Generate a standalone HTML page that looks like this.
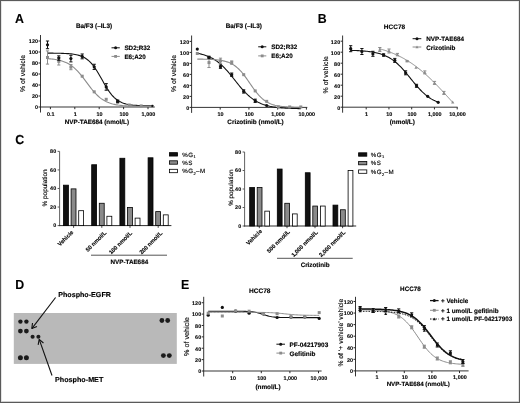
<!DOCTYPE html>
<html><head><meta charset="utf-8"><style>
html,body{margin:0;padding:0;background:#fff;}
svg{display:block;font-family:"Liberation Sans", sans-serif;will-change:transform;transform:translateZ(0);text-rendering:geometricPrecision;}
</style></head><body>
<svg width="520" height="403" viewBox="0 0 520 403">
<rect x="0" y="0" width="520" height="403" fill="#fff"/>
<rect x="0.00" y="1.00" width="520.00" height="1.00" fill="#ececec"/>
<rect x="1.00" y="0.00" width="1.00" height="403.00" fill="#e4e4e4"/>
<rect x="518.00" y="0.00" width="1.00" height="403.00" fill="#e4e4e4"/>
<rect x="0.00" y="401.00" width="520.00" height="1.00" fill="#d0d0d0"/>
<rect x="0.00" y="0.00" width="520.00" height="1.00" fill="#5a5a5a"/>
<rect x="0.00" y="0.00" width="1.00" height="403.00" fill="#5a5a5a"/>
<rect x="519.00" y="0.00" width="1.00" height="403.00" fill="#5a5a5a"/>
<rect x="0.00" y="402.00" width="520.00" height="1.00" fill="#5a5a5a"/>
<text x="0" y="0" font-size="13" font-weight="bold" fill="#000" stroke="#000" stroke-width="0.1" transform="translate(15.1 23.0) scale(0.95 1)">A</text>
<text x="0" y="0" font-size="13" font-weight="bold" fill="#000" stroke="#000" stroke-width="0.1" transform="translate(317.70000000000005 23.0) scale(0.95 1)">B</text>
<text x="0" y="0" font-size="13" font-weight="bold" fill="#000" stroke="#000" stroke-width="0.1" transform="translate(15.2 143.9) scale(0.95 1)">C</text>
<text x="0" y="0" font-size="13" font-weight="bold" fill="#000" stroke="#000" stroke-width="0.1" transform="translate(15.2 288.9) scale(0.95 1)">D</text>
<text x="0" y="0" font-size="13" font-weight="bold" fill="#000" stroke="#000" stroke-width="0.1" transform="translate(180.9 288.9) scale(0.95 1)">E</text>
<line x1="40.50" y1="35.00" x2="40.50" y2="112.50" stroke="#2a2a2a" stroke-width="0.95"/>
<line x1="38.50" y1="107.00" x2="40.50" y2="107.00" stroke="#2a2a2a" stroke-width="1.0"/>
<text x="38.20" y="109.30" font-size="5.4" font-weight="bold" text-anchor="end" fill="#000" stroke="#000" stroke-width="0.1" letter-spacing="0.15">0</text>
<line x1="38.50" y1="96.00" x2="40.50" y2="96.00" stroke="#2a2a2a" stroke-width="1.0"/>
<text x="38.20" y="98.30" font-size="5.4" font-weight="bold" text-anchor="end" fill="#000" stroke="#000" stroke-width="0.1" letter-spacing="0.15">20</text>
<line x1="38.50" y1="85.00" x2="40.50" y2="85.00" stroke="#2a2a2a" stroke-width="1.0"/>
<text x="38.20" y="87.30" font-size="5.4" font-weight="bold" text-anchor="end" fill="#000" stroke="#000" stroke-width="0.1" letter-spacing="0.15">40</text>
<line x1="38.50" y1="74.00" x2="40.50" y2="74.00" stroke="#2a2a2a" stroke-width="1.0"/>
<text x="38.20" y="76.30" font-size="5.4" font-weight="bold" text-anchor="end" fill="#000" stroke="#000" stroke-width="0.1" letter-spacing="0.15">60</text>
<line x1="38.50" y1="63.00" x2="40.50" y2="63.00" stroke="#2a2a2a" stroke-width="1.0"/>
<text x="38.20" y="65.30" font-size="5.4" font-weight="bold" text-anchor="end" fill="#000" stroke="#000" stroke-width="0.1" letter-spacing="0.15">80</text>
<line x1="38.50" y1="52.00" x2="40.50" y2="52.00" stroke="#2a2a2a" stroke-width="1.0"/>
<text x="38.20" y="54.30" font-size="5.4" font-weight="bold" text-anchor="end" fill="#000" stroke="#000" stroke-width="0.1" letter-spacing="0.15">100</text>
<line x1="38.50" y1="41.00" x2="40.50" y2="41.00" stroke="#2a2a2a" stroke-width="1.0"/>
<text x="38.20" y="43.30" font-size="5.4" font-weight="bold" text-anchor="end" fill="#000" stroke="#000" stroke-width="0.1" letter-spacing="0.15">120</text>
<line x1="40.05" y1="107.00" x2="154.80" y2="107.00" stroke="#2a2a2a" stroke-width="0.95"/>
<line x1="50.40" y1="107.00" x2="50.40" y2="109.20" stroke="#2a2a2a" stroke-width="1.0"/>
<text x="50.80" y="115.50" font-size="5.45" font-weight="bold" text-anchor="middle" fill="#000" stroke="#000" stroke-width="0.1">0.1</text>
<line x1="74.80" y1="107.00" x2="74.80" y2="109.20" stroke="#2a2a2a" stroke-width="1.0"/>
<text x="75.20" y="115.50" font-size="5.45" font-weight="bold" text-anchor="middle" fill="#000" stroke="#000" stroke-width="0.1">1</text>
<line x1="99.20" y1="107.00" x2="99.20" y2="109.20" stroke="#2a2a2a" stroke-width="1.0"/>
<text x="99.60" y="115.50" font-size="5.45" font-weight="bold" text-anchor="middle" fill="#000" stroke="#000" stroke-width="0.1">10</text>
<line x1="123.60" y1="107.00" x2="123.60" y2="109.20" stroke="#2a2a2a" stroke-width="1.0"/>
<text x="124.00" y="115.50" font-size="5.45" font-weight="bold" text-anchor="middle" fill="#000" stroke="#000" stroke-width="0.1">100</text>
<line x1="148.00" y1="107.00" x2="148.00" y2="109.20" stroke="#2a2a2a" stroke-width="1.0"/>
<text x="148.40" y="115.50" font-size="5.45" font-weight="bold" text-anchor="middle" fill="#000" stroke="#000" stroke-width="0.1">1,000</text>
<text x="75.90" y="28.30" font-size="6.4" font-weight="bold" text-anchor="start" fill="#000" stroke="#000" stroke-width="0.14">Ba/F3 (–IL3)</text>
<text x="96.90" y="123.50" font-size="6.3" font-weight="bold" text-anchor="middle" fill="#000" stroke="#000" stroke-width="0.14">NVP-TAE684 (nmol/L)</text>
<text x="25.30" y="73.40" font-size="6.9" font-weight="normal" text-anchor="middle" fill="#000" stroke="#000" stroke-width="0.14" transform="rotate(-90 25.3 73.4)">% of vehicle</text>
<path d="M47.50,53.13 L48.81,53.14 L50.12,53.15 L51.43,53.16 L52.74,53.17 L54.05,53.18 L55.36,53.20 L56.67,53.22 L57.98,53.24 L59.29,53.27 L60.60,53.30 L61.91,53.34 L63.22,53.38 L64.53,53.44 L65.84,53.50 L67.15,53.58 L68.46,53.67 L69.77,53.78 L71.08,53.91 L72.39,54.07 L73.70,54.25 L75.01,54.47 L76.32,54.72 L77.63,55.02 L78.94,55.38 L80.25,55.80 L81.56,56.29 L82.87,56.86 L84.18,57.53 L85.49,58.30 L86.80,59.19 L88.11,60.21 L89.42,61.37 L90.73,62.68 L92.04,64.14 L93.35,65.76 L94.66,67.54 L95.97,69.47 L97.28,71.53 L98.59,73.70 L99.90,75.96 L101.21,78.27 L102.52,80.60 L103.83,82.92 L105.14,85.18 L106.45,87.36 L107.76,89.43 L109.07,91.36 L110.38,93.15 L111.69,94.78 L113.00,96.25 L114.31,97.57 L115.62,98.73 L116.93,99.76 L118.24,100.66 L119.55,101.43 L120.86,102.11 L122.17,102.68 L123.48,103.18 L124.79,103.60 L126.10,103.96 L127.41,104.26 L128.72,104.52 L130.03,104.74 L131.34,104.92 L132.65,105.08 L133.96,105.21 L135.27,105.32 L136.58,105.41 L137.89,105.49 L139.20,105.56 L140.51,105.61 L141.82,105.66 L143.13,105.70 L144.44,105.73 L145.75,105.76 L147.06,105.78 L148.37,105.80 L149.68,105.82 L150.99,105.83 L152.30,105.84" stroke="#111" stroke-width="1.1" fill="none"/>
<path d="M47.50,58.67 L48.81,58.76 L50.12,58.88 L51.43,59.00 L52.74,59.15 L54.05,59.32 L55.36,59.51 L56.67,59.73 L57.98,59.99 L59.29,60.28 L60.60,60.61 L61.91,60.98 L63.22,61.41 L64.53,61.90 L65.84,62.45 L67.15,63.07 L68.46,63.77 L69.77,64.54 L71.08,65.41 L72.39,66.37 L73.70,67.42 L75.01,68.58 L76.32,69.83 L77.63,71.18 L78.94,72.62 L80.25,74.15 L81.56,75.75 L82.87,77.42 L84.18,79.14 L85.49,80.89 L86.80,82.65 L88.11,84.42 L89.42,86.15 L90.73,87.85 L92.04,89.49 L93.35,91.06 L94.66,92.55 L95.97,93.95 L97.28,95.26 L98.59,96.47 L99.90,97.57 L101.21,98.58 L102.52,99.50 L103.83,100.32 L105.14,101.06 L106.45,101.72 L107.76,102.31 L109.07,102.83 L110.38,103.29 L111.69,103.69 L113.00,104.05 L114.31,104.36 L115.62,104.64 L116.93,104.87 L118.24,105.08 L119.55,105.26 L120.86,105.42 L122.17,105.56 L123.48,105.68 L124.79,105.78 L126.10,105.87 L127.41,105.95 L128.72,106.02 L130.03,106.07 L131.34,106.13 L132.65,106.17 L133.96,106.21 L135.27,106.24 L136.58,106.27 L137.89,106.29 L139.20,106.31 L140.51,106.33 L141.82,106.35 L143.13,106.36 L144.44,106.37 L145.75,106.38 L147.06,106.39 L148.37,106.40 L149.68,106.41 L150.99,106.41 L152.30,106.42" stroke="#8c8c8c" stroke-width="1.1" fill="none"/>
<line x1="47.50" y1="50.90" x2="47.50" y2="64.10" stroke="#8c8c8c" stroke-width="1.0"/>
<line x1="45.90" y1="50.90" x2="49.10" y2="50.90" stroke="#8c8c8c" stroke-width="1.0"/>
<line x1="45.90" y1="64.10" x2="49.10" y2="64.10" stroke="#8c8c8c" stroke-width="1.0"/>
<rect x="46.00" y="56.00" width="3.00" height="3.00" fill="#8c8c8c"/>
<line x1="58.80" y1="57.66" x2="58.80" y2="65.03" stroke="#8c8c8c" stroke-width="1.0"/>
<line x1="57.20" y1="57.66" x2="60.40" y2="57.66" stroke="#8c8c8c" stroke-width="1.0"/>
<line x1="57.20" y1="65.03" x2="60.40" y2="65.03" stroke="#8c8c8c" stroke-width="1.0"/>
<rect x="57.30" y="59.85" width="3.00" height="3.00" fill="#8c8c8c"/>
<line x1="70.90" y1="64.54" x2="70.90" y2="69.71" stroke="#8c8c8c" stroke-width="1.0"/>
<line x1="69.30" y1="64.54" x2="72.50" y2="64.54" stroke="#8c8c8c" stroke-width="1.0"/>
<line x1="69.30" y1="69.71" x2="72.50" y2="69.71" stroke="#8c8c8c" stroke-width="1.0"/>
<rect x="69.40" y="65.62" width="3.00" height="3.00" fill="#8c8c8c"/>
<rect x="80.70" y="74.70" width="3.00" height="3.00" fill="#8c8c8c"/>
<rect x="92.70" y="90.32" width="3.00" height="3.00" fill="#8c8c8c"/>
<rect x="104.70" y="97.80" width="3.00" height="3.00" fill="#8c8c8c"/>
<rect x="116.20" y="100.83" width="3.00" height="3.00" fill="#8c8c8c"/>
<rect x="127.70" y="103.52" width="3.00" height="3.00" fill="#8c8c8c"/>
<rect x="139.70" y="104.40" width="3.00" height="3.00" fill="#8c8c8c"/>
<rect x="150.80" y="104.95" width="3.00" height="3.00" fill="#8c8c8c"/>
<line x1="47.50" y1="41.00" x2="47.50" y2="48.70" stroke="#111" stroke-width="1.0"/>
<line x1="45.90" y1="41.00" x2="49.10" y2="41.00" stroke="#111" stroke-width="1.0"/>
<line x1="45.90" y1="48.70" x2="49.10" y2="48.70" stroke="#111" stroke-width="1.0"/>
<circle cx="47.50" cy="44.85" r="1.6" fill="#111"/>
<line x1="58.80" y1="55.85" x2="58.80" y2="60.25" stroke="#111" stroke-width="1.0"/>
<line x1="57.20" y1="55.85" x2="60.40" y2="55.85" stroke="#111" stroke-width="1.0"/>
<line x1="57.20" y1="60.25" x2="60.40" y2="60.25" stroke="#111" stroke-width="1.0"/>
<circle cx="58.80" cy="58.05" r="1.6" fill="#111"/>
<line x1="70.90" y1="55.30" x2="70.90" y2="61.90" stroke="#111" stroke-width="1.0"/>
<line x1="69.30" y1="55.30" x2="72.50" y2="55.30" stroke="#111" stroke-width="1.0"/>
<line x1="69.30" y1="61.90" x2="72.50" y2="61.90" stroke="#111" stroke-width="1.0"/>
<circle cx="70.90" cy="58.60" r="1.6" fill="#111"/>
<line x1="82.20" y1="53.98" x2="82.20" y2="58.82" stroke="#111" stroke-width="1.0"/>
<line x1="80.60" y1="53.98" x2="83.80" y2="53.98" stroke="#111" stroke-width="1.0"/>
<line x1="80.60" y1="58.82" x2="83.80" y2="58.82" stroke="#111" stroke-width="1.0"/>
<circle cx="82.20" cy="56.40" r="1.6" fill="#111"/>
<line x1="94.20" y1="64.26" x2="94.20" y2="69.44" stroke="#111" stroke-width="1.0"/>
<line x1="92.60" y1="64.26" x2="95.80" y2="64.26" stroke="#111" stroke-width="1.0"/>
<line x1="92.60" y1="69.44" x2="95.80" y2="69.44" stroke="#111" stroke-width="1.0"/>
<circle cx="94.20" cy="66.85" r="1.6" fill="#111"/>
<line x1="106.20" y1="83.62" x2="106.20" y2="90.22" stroke="#111" stroke-width="1.0"/>
<line x1="104.60" y1="83.62" x2="107.80" y2="83.62" stroke="#111" stroke-width="1.0"/>
<line x1="104.60" y1="90.22" x2="107.80" y2="90.22" stroke="#111" stroke-width="1.0"/>
<circle cx="106.20" cy="86.92" r="1.6" fill="#111"/>
<line x1="117.70" y1="100.12" x2="117.70" y2="102.33" stroke="#111" stroke-width="1.0"/>
<line x1="116.10" y1="100.12" x2="119.30" y2="100.12" stroke="#111" stroke-width="1.0"/>
<line x1="116.10" y1="102.33" x2="119.30" y2="102.33" stroke="#111" stroke-width="1.0"/>
<circle cx="117.70" cy="101.22" r="1.6" fill="#111"/>
<circle cx="152.30" cy="105.90" r="1.1" fill="#111"/>
<line x1="111.50" y1="47.80" x2="119.80" y2="47.80" stroke="#111" stroke-width="1"/>
<circle cx="115.60" cy="47.80" r="1.5" fill="#111"/>
<text x="124.40" y="49.80" font-size="6.3" font-weight="bold" text-anchor="start" fill="#000" stroke="#000" stroke-width="0.14">SD2;R32</text>
<line x1="111.50" y1="56.40" x2="119.80" y2="56.40" stroke="#8c8c8c" stroke-width="1"/>
<rect x="114.20" y="55.00" width="2.80" height="2.80" fill="#8c8c8c"/>
<text x="124.40" y="58.70" font-size="6.3" font-weight="bold" text-anchor="start" fill="#000" stroke="#000" stroke-width="0.14">E6;A20</text>
<line x1="191.60" y1="35.50" x2="191.60" y2="112.90" stroke="#2a2a2a" stroke-width="0.95"/>
<line x1="189.60" y1="107.40" x2="191.60" y2="107.40" stroke="#2a2a2a" stroke-width="1.0"/>
<text x="189.30" y="109.70" font-size="5.4" font-weight="bold" text-anchor="end" fill="#000" stroke="#000" stroke-width="0.1" letter-spacing="0.15">0</text>
<line x1="189.60" y1="96.40" x2="191.60" y2="96.40" stroke="#2a2a2a" stroke-width="1.0"/>
<text x="189.30" y="98.70" font-size="5.4" font-weight="bold" text-anchor="end" fill="#000" stroke="#000" stroke-width="0.1" letter-spacing="0.15">20</text>
<line x1="189.60" y1="85.40" x2="191.60" y2="85.40" stroke="#2a2a2a" stroke-width="1.0"/>
<text x="189.30" y="87.70" font-size="5.4" font-weight="bold" text-anchor="end" fill="#000" stroke="#000" stroke-width="0.1" letter-spacing="0.15">40</text>
<line x1="189.60" y1="74.40" x2="191.60" y2="74.40" stroke="#2a2a2a" stroke-width="1.0"/>
<text x="189.30" y="76.70" font-size="5.4" font-weight="bold" text-anchor="end" fill="#000" stroke="#000" stroke-width="0.1" letter-spacing="0.15">60</text>
<line x1="189.60" y1="63.40" x2="191.60" y2="63.40" stroke="#2a2a2a" stroke-width="1.0"/>
<text x="189.30" y="65.70" font-size="5.4" font-weight="bold" text-anchor="end" fill="#000" stroke="#000" stroke-width="0.1" letter-spacing="0.15">80</text>
<line x1="189.60" y1="52.40" x2="191.60" y2="52.40" stroke="#2a2a2a" stroke-width="1.0"/>
<text x="189.30" y="54.70" font-size="5.4" font-weight="bold" text-anchor="end" fill="#000" stroke="#000" stroke-width="0.1" letter-spacing="0.15">100</text>
<line x1="189.60" y1="41.40" x2="191.60" y2="41.40" stroke="#2a2a2a" stroke-width="1.0"/>
<text x="189.30" y="43.70" font-size="5.4" font-weight="bold" text-anchor="end" fill="#000" stroke="#000" stroke-width="0.1" letter-spacing="0.15">120</text>
<line x1="191.15" y1="107.40" x2="307.30" y2="107.40" stroke="#2a2a2a" stroke-width="0.95"/>
<line x1="220.20" y1="107.40" x2="220.20" y2="109.60" stroke="#2a2a2a" stroke-width="1.0"/>
<text x="220.60" y="115.90" font-size="5.45" font-weight="bold" text-anchor="middle" fill="#000" stroke="#000" stroke-width="0.1">10</text>
<line x1="248.93" y1="107.40" x2="248.93" y2="109.60" stroke="#2a2a2a" stroke-width="1.0"/>
<text x="249.33" y="115.90" font-size="5.45" font-weight="bold" text-anchor="middle" fill="#000" stroke="#000" stroke-width="0.1">100</text>
<line x1="277.66" y1="107.40" x2="277.66" y2="109.60" stroke="#2a2a2a" stroke-width="1.0"/>
<text x="278.06" y="115.90" font-size="5.45" font-weight="bold" text-anchor="middle" fill="#000" stroke="#000" stroke-width="0.1">1,000</text>
<line x1="306.39" y1="107.40" x2="306.39" y2="109.60" stroke="#2a2a2a" stroke-width="1.0"/>
<text x="306.79" y="115.90" font-size="5.45" font-weight="bold" text-anchor="middle" fill="#000" stroke="#000" stroke-width="0.1">10,000</text>
<text x="225.70" y="28.30" font-size="6.4" font-weight="bold" text-anchor="start" fill="#000" stroke="#000" stroke-width="0.14">Ba/F3 (–IL3)</text>
<text x="227.30" y="123.60" font-size="6.4" font-weight="bold" text-anchor="start" fill="#000" stroke="#000" stroke-width="0.14">Crizotinib (nmol/L)</text>
<text x="176.30" y="73.40" font-size="6.9" font-weight="normal" text-anchor="middle" fill="#000" stroke="#000" stroke-width="0.14" transform="rotate(-90 176.3 73.4)">% of vehicle</text>
<path d="M197.30,53.30 L198.59,53.55 L199.89,53.81 L201.18,54.11 L202.48,54.44 L203.77,54.81 L205.06,55.21 L206.36,55.65 L207.65,56.14 L208.94,56.67 L210.24,57.26 L211.53,57.90 L212.83,58.60 L214.12,59.36 L215.41,60.19 L216.71,61.08 L218.00,62.04 L219.29,63.08 L220.59,64.18 L221.88,65.35 L223.18,66.60 L224.47,67.91 L225.76,69.28 L227.06,70.71 L228.35,72.20 L229.64,73.73 L230.94,75.30 L232.23,76.90 L233.53,78.52 L234.82,80.15 L236.11,81.78 L237.41,83.39 L238.70,84.99 L239.99,86.55 L241.29,88.08 L242.58,89.55 L243.88,90.98 L245.17,92.34 L246.46,93.64 L247.76,94.87 L249.05,96.03 L250.34,97.12 L251.64,98.14 L252.93,99.09 L254.23,99.97 L255.52,100.78 L256.81,101.53 L258.11,102.22 L259.40,102.85 L260.69,103.43 L261.99,103.95 L263.28,104.43 L264.58,104.87 L265.87,105.26 L267.16,105.62 L268.46,105.94 L269.75,106.24 L271.04,106.50 L272.34,106.74 L273.63,106.95 L274.93,107.14 L276.22,107.32 L277.51,107.47 L278.81,107.61 L280.10,107.74 L281.39,107.85 L282.69,107.95 L283.98,108.04 L285.27,108.12 L286.57,108.19 L287.86,108.26 L289.16,108.31 L290.45,108.36 L291.74,108.41 L293.04,108.45 L294.33,108.49 L295.62,108.52 L296.92,108.55 L298.21,108.58 L299.51,108.60 L300.80,108.62" stroke="#111" stroke-width="1.1" fill="none"/>
<path d="M197.30,59.08 L198.59,59.10 L199.89,59.11 L201.18,59.13 L202.48,59.15 L203.77,59.18 L205.06,59.21 L206.36,59.25 L207.65,59.29 L208.94,59.34 L210.24,59.39 L211.53,59.46 L212.83,59.54 L214.12,59.63 L215.41,59.73 L216.71,59.86 L218.00,60.00 L219.29,60.17 L220.59,60.36 L221.88,60.58 L223.18,60.84 L224.47,61.14 L225.76,61.48 L227.06,61.88 L228.35,62.34 L229.64,62.86 L230.94,63.46 L232.23,64.13 L233.53,64.90 L234.82,65.76 L236.11,66.73 L237.41,67.80 L238.70,68.99 L239.99,70.29 L241.29,71.71 L242.58,73.23 L243.88,74.86 L245.17,76.57 L246.46,78.37 L247.76,80.21 L249.05,82.10 L250.34,84.00 L251.64,85.89 L252.93,87.74 L254.23,89.55 L255.52,91.28 L256.81,92.92 L258.11,94.46 L259.40,95.89 L260.69,97.21 L261.99,98.42 L263.28,99.51 L264.58,100.49 L265.87,101.37 L267.16,102.15 L268.46,102.84 L269.75,103.45 L271.04,103.98 L272.34,104.45 L273.63,104.86 L274.93,105.21 L276.22,105.51 L277.51,105.78 L278.81,106.01 L280.10,106.21 L281.39,106.38 L282.69,106.52 L283.98,106.65 L285.27,106.76 L286.57,106.85 L287.86,106.93 L289.16,107.00 L290.45,107.05 L291.74,107.10 L293.04,107.15 L294.33,107.18 L295.62,107.21 L296.92,107.24 L298.21,107.26 L299.51,107.28 L300.80,107.30" stroke="#8c8c8c" stroke-width="1.1" fill="none"/>
<rect x="195.80" y="52.00" width="3.00" height="3.00" fill="#8c8c8c"/>
<line x1="209.00" y1="57.62" x2="209.00" y2="67.53" stroke="#8c8c8c" stroke-width="1.0"/>
<line x1="207.40" y1="57.62" x2="210.60" y2="57.62" stroke="#8c8c8c" stroke-width="1.0"/>
<line x1="207.40" y1="67.53" x2="210.60" y2="67.53" stroke="#8c8c8c" stroke-width="1.0"/>
<rect x="207.50" y="61.08" width="3.00" height="3.00" fill="#8c8c8c"/>
<line x1="220.50" y1="58.18" x2="220.50" y2="63.68" stroke="#8c8c8c" stroke-width="1.0"/>
<line x1="218.90" y1="58.18" x2="222.10" y2="58.18" stroke="#8c8c8c" stroke-width="1.0"/>
<line x1="218.90" y1="63.68" x2="222.10" y2="63.68" stroke="#8c8c8c" stroke-width="1.0"/>
<rect x="219.00" y="59.43" width="3.00" height="3.00" fill="#8c8c8c"/>
<line x1="231.70" y1="60.93" x2="231.70" y2="64.22" stroke="#8c8c8c" stroke-width="1.0"/>
<line x1="230.10" y1="60.93" x2="233.30" y2="60.93" stroke="#8c8c8c" stroke-width="1.0"/>
<line x1="230.10" y1="64.22" x2="233.30" y2="64.22" stroke="#8c8c8c" stroke-width="1.0"/>
<rect x="230.20" y="61.08" width="3.00" height="3.00" fill="#8c8c8c"/>
<rect x="242.20" y="73.18" width="3.00" height="3.00" fill="#8c8c8c"/>
<rect x="253.70" y="89.40" width="3.00" height="3.00" fill="#8c8c8c"/>
<rect x="265.20" y="99.85" width="3.00" height="3.00" fill="#8c8c8c"/>
<rect x="276.80" y="105.35" width="3.00" height="3.00" fill="#8c8c8c"/>
<rect x="288.20" y="105.46" width="3.00" height="3.00" fill="#8c8c8c"/>
<rect x="299.30" y="105.46" width="3.00" height="3.00" fill="#8c8c8c"/>
<circle cx="197.30" cy="49.10" r="1.6" fill="#111"/>
<line x1="209.00" y1="56.25" x2="209.00" y2="58.45" stroke="#111" stroke-width="1.0"/>
<line x1="207.40" y1="56.25" x2="210.60" y2="56.25" stroke="#111" stroke-width="1.0"/>
<line x1="207.40" y1="58.45" x2="210.60" y2="58.45" stroke="#111" stroke-width="1.0"/>
<circle cx="209.00" cy="57.35" r="1.6" fill="#111"/>
<line x1="220.50" y1="65.05" x2="220.50" y2="68.35" stroke="#111" stroke-width="1.0"/>
<line x1="218.90" y1="65.05" x2="222.10" y2="65.05" stroke="#111" stroke-width="1.0"/>
<line x1="218.90" y1="68.35" x2="222.10" y2="68.35" stroke="#111" stroke-width="1.0"/>
<circle cx="220.50" cy="66.70" r="1.6" fill="#111"/>
<line x1="231.70" y1="73.03" x2="231.70" y2="76.33" stroke="#111" stroke-width="1.0"/>
<line x1="230.10" y1="73.03" x2="233.30" y2="73.03" stroke="#111" stroke-width="1.0"/>
<line x1="230.10" y1="76.33" x2="233.30" y2="76.33" stroke="#111" stroke-width="1.0"/>
<circle cx="231.70" cy="74.68" r="1.6" fill="#111"/>
<line x1="243.70" y1="89.80" x2="243.70" y2="93.10" stroke="#111" stroke-width="1.0"/>
<line x1="242.10" y1="89.80" x2="245.30" y2="89.80" stroke="#111" stroke-width="1.0"/>
<line x1="242.10" y1="93.10" x2="245.30" y2="93.10" stroke="#111" stroke-width="1.0"/>
<circle cx="243.70" cy="91.45" r="1.6" fill="#111"/>
<line x1="255.20" y1="99.15" x2="255.20" y2="102.45" stroke="#111" stroke-width="1.0"/>
<line x1="253.60" y1="99.15" x2="256.80" y2="99.15" stroke="#111" stroke-width="1.0"/>
<line x1="253.60" y1="102.45" x2="256.80" y2="102.45" stroke="#111" stroke-width="1.0"/>
<circle cx="255.20" cy="100.80" r="1.6" fill="#111"/>
<circle cx="266.70" cy="105.48" r="1.6" fill="#111"/>
<line x1="258.20" y1="46.80" x2="266.30" y2="46.80" stroke="#111" stroke-width="1"/>
<circle cx="262.20" cy="46.80" r="1.5" fill="#111"/>
<text x="271.30" y="48.90" font-size="6.3" font-weight="bold" text-anchor="start" fill="#000" stroke="#000" stroke-width="0.14">SD2;R32</text>
<line x1="258.20" y1="55.90" x2="266.30" y2="55.90" stroke="#8c8c8c" stroke-width="1"/>
<rect x="260.80" y="54.50" width="2.80" height="2.80" fill="#8c8c8c"/>
<text x="271.30" y="57.90" font-size="6.3" font-weight="bold" text-anchor="start" fill="#000" stroke="#000" stroke-width="0.14">E6;A20</text>
<line x1="342.60" y1="35.50" x2="342.60" y2="112.70" stroke="#2a2a2a" stroke-width="0.95"/>
<line x1="340.60" y1="107.20" x2="342.60" y2="107.20" stroke="#2a2a2a" stroke-width="1.0"/>
<text x="340.30" y="109.50" font-size="5.4" font-weight="bold" text-anchor="end" fill="#000" stroke="#000" stroke-width="0.1" letter-spacing="0.15">0</text>
<line x1="340.60" y1="96.20" x2="342.60" y2="96.20" stroke="#2a2a2a" stroke-width="1.0"/>
<text x="340.30" y="98.50" font-size="5.4" font-weight="bold" text-anchor="end" fill="#000" stroke="#000" stroke-width="0.1" letter-spacing="0.15">20</text>
<line x1="340.60" y1="85.20" x2="342.60" y2="85.20" stroke="#2a2a2a" stroke-width="1.0"/>
<text x="340.30" y="87.50" font-size="5.4" font-weight="bold" text-anchor="end" fill="#000" stroke="#000" stroke-width="0.1" letter-spacing="0.15">40</text>
<line x1="340.60" y1="74.20" x2="342.60" y2="74.20" stroke="#2a2a2a" stroke-width="1.0"/>
<text x="340.30" y="76.50" font-size="5.4" font-weight="bold" text-anchor="end" fill="#000" stroke="#000" stroke-width="0.1" letter-spacing="0.15">60</text>
<line x1="340.60" y1="63.20" x2="342.60" y2="63.20" stroke="#2a2a2a" stroke-width="1.0"/>
<text x="340.30" y="65.50" font-size="5.4" font-weight="bold" text-anchor="end" fill="#000" stroke="#000" stroke-width="0.1" letter-spacing="0.15">80</text>
<line x1="340.60" y1="52.20" x2="342.60" y2="52.20" stroke="#2a2a2a" stroke-width="1.0"/>
<text x="340.30" y="54.50" font-size="5.4" font-weight="bold" text-anchor="end" fill="#000" stroke="#000" stroke-width="0.1" letter-spacing="0.15">100</text>
<line x1="340.60" y1="41.20" x2="342.60" y2="41.20" stroke="#2a2a2a" stroke-width="1.0"/>
<text x="340.30" y="43.50" font-size="5.4" font-weight="bold" text-anchor="end" fill="#000" stroke="#000" stroke-width="0.1" letter-spacing="0.15">120</text>
<line x1="342.15" y1="107.20" x2="457.60" y2="107.20" stroke="#2a2a2a" stroke-width="0.95"/>
<line x1="366.20" y1="107.20" x2="366.20" y2="109.40" stroke="#2a2a2a" stroke-width="1.0"/>
<text x="366.60" y="115.70" font-size="5.45" font-weight="bold" text-anchor="middle" fill="#000" stroke="#000" stroke-width="0.1">1</text>
<line x1="388.95" y1="107.20" x2="388.95" y2="109.40" stroke="#2a2a2a" stroke-width="1.0"/>
<text x="389.35" y="115.70" font-size="5.45" font-weight="bold" text-anchor="middle" fill="#000" stroke="#000" stroke-width="0.1">10</text>
<line x1="411.70" y1="107.20" x2="411.70" y2="109.40" stroke="#2a2a2a" stroke-width="1.0"/>
<text x="412.10" y="115.70" font-size="5.45" font-weight="bold" text-anchor="middle" fill="#000" stroke="#000" stroke-width="0.1">100</text>
<line x1="434.45" y1="107.20" x2="434.45" y2="109.40" stroke="#2a2a2a" stroke-width="1.0"/>
<text x="434.85" y="115.70" font-size="5.45" font-weight="bold" text-anchor="middle" fill="#000" stroke="#000" stroke-width="0.1">1,000</text>
<line x1="457.20" y1="107.20" x2="457.20" y2="109.40" stroke="#2a2a2a" stroke-width="1.0"/>
<text x="457.60" y="115.70" font-size="5.45" font-weight="bold" text-anchor="middle" fill="#000" stroke="#000" stroke-width="0.1">10,000</text>
<text x="383.80" y="28.80" font-size="6.5" font-weight="bold" text-anchor="start" fill="#000" stroke="#000" stroke-width="0.14">HCC78</text>
<text x="402.30" y="123.60" font-size="6.4" font-weight="bold" text-anchor="middle" fill="#000" stroke="#000" stroke-width="0.14">(nmol/L)</text>
<text x="327.90" y="74.80" font-size="6.9" font-weight="normal" text-anchor="middle" fill="#000" stroke="#000" stroke-width="0.14" transform="rotate(-90 327.9 74.8)">% of vehicle</text>
<path d="M350.70,50.38 L351.79,50.41 L352.89,50.44 L353.98,50.48 L355.07,50.52 L356.17,50.56 L357.26,50.61 L358.36,50.66 L359.45,50.72 L360.54,50.78 L361.64,50.86 L362.73,50.93 L363.82,51.02 L364.92,51.11 L366.01,51.21 L367.11,51.32 L368.20,51.44 L369.29,51.58 L370.39,51.72 L371.48,51.89 L372.57,52.06 L373.67,52.25 L374.76,52.46 L375.86,52.69 L376.95,52.94 L378.04,53.21 L379.14,53.50 L380.23,53.82 L381.32,54.17 L382.42,54.55 L383.51,54.96 L384.61,55.40 L385.70,55.88 L386.79,56.40 L387.89,56.95 L388.98,57.55 L390.07,58.19 L391.17,58.88 L392.26,59.61 L393.36,60.39 L394.45,61.22 L395.54,62.10 L396.64,63.03 L397.73,64.01 L398.82,65.04 L399.92,66.11 L401.01,67.23 L402.11,68.40 L403.20,69.60 L404.29,70.84 L405.39,72.12 L406.48,73.42 L407.57,74.74 L408.67,76.08 L409.76,77.43 L410.86,78.79 L411.95,80.14 L413.04,81.49 L414.14,82.82 L415.23,84.14 L416.32,85.43 L417.42,86.69 L418.51,87.92 L419.61,89.11 L420.70,90.25 L421.79,91.36 L422.89,92.42 L423.98,93.42 L425.07,94.39 L426.17,95.30 L427.26,96.16 L428.36,96.97 L429.45,97.73 L430.54,98.45 L431.64,99.12 L432.73,99.74 L433.82,100.32 L434.92,100.86 L436.01,101.36 L437.11,101.83 L438.20,102.26" stroke="#111" stroke-width="1.1" fill="none"/>
<path d="M379.80,48.86 L380.71,49.11 L381.62,49.37 L382.53,49.64 L383.44,49.92 L384.36,50.20 L385.27,50.49 L386.18,50.79 L387.09,51.10 L388.00,51.42 L388.91,51.75 L389.82,52.09 L390.74,52.43 L391.65,52.79 L392.56,53.15 L393.47,53.53 L394.38,53.92 L395.29,54.31 L396.20,54.72 L397.11,55.14 L398.02,55.56 L398.94,56.00 L399.85,56.45 L400.76,56.92 L401.67,57.39 L402.58,57.87 L403.49,58.37 L404.40,58.88 L405.31,59.40 L406.23,59.94 L407.14,60.48 L408.05,61.04 L408.96,61.61 L409.87,62.20 L410.78,62.79 L411.69,63.40 L412.61,64.03 L413.52,64.66 L414.43,65.31 L415.34,65.97 L416.25,66.65 L417.16,67.34 L418.07,68.04 L418.98,68.75 L419.89,69.48 L420.81,70.22 L421.72,70.98 L422.63,71.74 L423.54,72.52 L424.45,73.31 L425.36,74.12 L426.27,74.93 L427.19,75.76 L428.10,76.60 L429.01,77.45 L429.92,78.31 L430.83,79.18 L431.74,80.07 L432.65,80.96 L433.56,81.86 L434.47,82.78 L435.39,83.70 L436.30,84.63 L437.21,85.57 L438.12,86.52 L439.03,87.47 L439.94,88.44 L440.85,89.41 L441.76,90.38 L442.68,91.36 L443.59,92.35 L444.50,93.34 L445.41,94.33 L446.32,95.33 L447.23,96.33 L448.14,97.33 L449.05,98.34 L449.97,99.34 L450.88,100.35 L451.79,101.36 L452.70,102.36" stroke="#8c8c8c" stroke-width="1.0" fill="none"/>
<line x1="379.80" y1="47.50" x2="379.80" y2="51.50" stroke="#8c8c8c" stroke-width="1.0"/>
<line x1="378.20" y1="47.50" x2="381.40" y2="47.50" stroke="#8c8c8c" stroke-width="1.0"/>
<line x1="378.20" y1="51.50" x2="381.40" y2="51.50" stroke="#8c8c8c" stroke-width="1.0"/>
<path d="M379.80,47.82 L381.41,50.76 L378.19,50.76 Z" stroke="none" stroke-width="1" fill="#8c8c8c"/>
<line x1="389.00" y1="49.00" x2="389.00" y2="53.00" stroke="#8c8c8c" stroke-width="1.0"/>
<line x1="387.40" y1="49.00" x2="390.60" y2="49.00" stroke="#8c8c8c" stroke-width="1.0"/>
<line x1="387.40" y1="53.00" x2="390.60" y2="53.00" stroke="#8c8c8c" stroke-width="1.0"/>
<path d="M389.00,49.32 L390.61,52.26 L387.39,52.26 Z" stroke="none" stroke-width="1" fill="#8c8c8c"/>
<line x1="397.40" y1="53.40" x2="397.40" y2="55.80" stroke="#8c8c8c" stroke-width="1.0"/>
<line x1="395.80" y1="53.40" x2="399.00" y2="53.40" stroke="#8c8c8c" stroke-width="1.0"/>
<line x1="395.80" y1="55.80" x2="399.00" y2="55.80" stroke="#8c8c8c" stroke-width="1.0"/>
<path d="M397.40,52.92 L399.01,55.86 L395.79,55.86 Z" stroke="none" stroke-width="1" fill="#8c8c8c"/>
<line x1="407.10" y1="60.50" x2="407.10" y2="61.70" stroke="#8c8c8c" stroke-width="1.0"/>
<line x1="405.50" y1="60.50" x2="408.70" y2="60.50" stroke="#8c8c8c" stroke-width="1.0"/>
<line x1="405.50" y1="61.70" x2="408.70" y2="61.70" stroke="#8c8c8c" stroke-width="1.0"/>
<path d="M407.10,59.42 L408.71,62.36 L405.49,62.36 Z" stroke="none" stroke-width="1" fill="#8c8c8c"/>
<path d="M416.00,65.92 L417.61,68.86 L414.39,68.86 Z" stroke="none" stroke-width="1" fill="#8c8c8c"/>
<line x1="424.80" y1="70.90" x2="424.80" y2="73.90" stroke="#8c8c8c" stroke-width="1.0"/>
<line x1="423.20" y1="70.90" x2="426.40" y2="70.90" stroke="#8c8c8c" stroke-width="1.0"/>
<line x1="423.20" y1="73.90" x2="426.40" y2="73.90" stroke="#8c8c8c" stroke-width="1.0"/>
<path d="M424.80,70.72 L426.41,73.66 L423.19,73.66 Z" stroke="none" stroke-width="1" fill="#8c8c8c"/>
<line x1="434.50" y1="81.40" x2="434.50" y2="84.40" stroke="#8c8c8c" stroke-width="1.0"/>
<line x1="432.90" y1="81.40" x2="436.10" y2="81.40" stroke="#8c8c8c" stroke-width="1.0"/>
<line x1="432.90" y1="84.40" x2="436.10" y2="84.40" stroke="#8c8c8c" stroke-width="1.0"/>
<path d="M434.50,81.22 L436.11,84.16 L432.89,84.16 Z" stroke="none" stroke-width="1" fill="#8c8c8c"/>
<line x1="443.90" y1="91.40" x2="443.90" y2="94.40" stroke="#8c8c8c" stroke-width="1.0"/>
<line x1="442.30" y1="91.40" x2="445.50" y2="91.40" stroke="#8c8c8c" stroke-width="1.0"/>
<line x1="442.30" y1="94.40" x2="445.50" y2="94.40" stroke="#8c8c8c" stroke-width="1.0"/>
<path d="M443.90,91.22 L445.51,94.16 L442.29,94.16 Z" stroke="none" stroke-width="1" fill="#8c8c8c"/>
<path d="M452.70,100.62 L454.31,103.56 L451.09,103.56 Z" stroke="none" stroke-width="1" fill="#8c8c8c"/>
<line x1="350.70" y1="45.70" x2="350.70" y2="51.70" stroke="#111" stroke-width="1.0"/>
<line x1="349.10" y1="45.70" x2="352.30" y2="45.70" stroke="#111" stroke-width="1.0"/>
<line x1="349.10" y1="51.70" x2="352.30" y2="51.70" stroke="#111" stroke-width="1.0"/>
<circle cx="350.70" cy="48.70" r="1.6" fill="#111"/>
<line x1="361.90" y1="48.50" x2="361.90" y2="54.50" stroke="#111" stroke-width="1.0"/>
<line x1="360.30" y1="48.50" x2="363.50" y2="48.50" stroke="#111" stroke-width="1.0"/>
<line x1="360.30" y1="54.50" x2="363.50" y2="54.50" stroke="#111" stroke-width="1.0"/>
<circle cx="361.90" cy="51.50" r="1.6" fill="#111"/>
<line x1="372.90" y1="51.30" x2="372.90" y2="56.30" stroke="#111" stroke-width="1.0"/>
<line x1="371.30" y1="51.30" x2="374.50" y2="51.30" stroke="#111" stroke-width="1.0"/>
<line x1="371.30" y1="56.30" x2="374.50" y2="56.30" stroke="#111" stroke-width="1.0"/>
<circle cx="372.90" cy="53.80" r="1.6" fill="#111"/>
<line x1="383.60" y1="53.80" x2="383.60" y2="56.20" stroke="#111" stroke-width="1.0"/>
<line x1="382.00" y1="53.80" x2="385.20" y2="53.80" stroke="#111" stroke-width="1.0"/>
<line x1="382.00" y1="56.20" x2="385.20" y2="56.20" stroke="#111" stroke-width="1.0"/>
<circle cx="383.60" cy="55.00" r="1.6" fill="#111"/>
<line x1="394.80" y1="58.40" x2="394.80" y2="62.40" stroke="#111" stroke-width="1.0"/>
<line x1="393.20" y1="58.40" x2="396.40" y2="58.40" stroke="#111" stroke-width="1.0"/>
<line x1="393.20" y1="62.40" x2="396.40" y2="62.40" stroke="#111" stroke-width="1.0"/>
<circle cx="394.80" cy="60.40" r="1.6" fill="#111"/>
<line x1="405.60" y1="70.80" x2="405.60" y2="74.80" stroke="#111" stroke-width="1.0"/>
<line x1="404.00" y1="70.80" x2="407.20" y2="70.80" stroke="#111" stroke-width="1.0"/>
<line x1="404.00" y1="74.80" x2="407.20" y2="74.80" stroke="#111" stroke-width="1.0"/>
<circle cx="405.60" cy="72.80" r="1.6" fill="#111"/>
<line x1="416.50" y1="84.30" x2="416.50" y2="87.30" stroke="#111" stroke-width="1.0"/>
<line x1="414.90" y1="84.30" x2="418.10" y2="84.30" stroke="#111" stroke-width="1.0"/>
<line x1="414.90" y1="87.30" x2="418.10" y2="87.30" stroke="#111" stroke-width="1.0"/>
<circle cx="416.50" cy="85.80" r="1.6" fill="#111"/>
<circle cx="427.70" cy="96.30" r="1.6" fill="#111"/>
<circle cx="438.20" cy="102.30" r="1.6" fill="#111"/>
<line x1="412.60" y1="38.70" x2="421.30" y2="38.70" stroke="#111" stroke-width="1"/>
<circle cx="417.00" cy="38.70" r="1.5" fill="#111"/>
<text x="426.30" y="41.10" font-size="6.3" font-weight="bold" text-anchor="start" fill="#000" stroke="#000" stroke-width="0.14">NVP-TAE684</text>
<line x1="412.60" y1="47.00" x2="421.30" y2="47.00" stroke="#8c8c8c" stroke-width="1"/>
<path d="M417.00,45.44 L418.50,48.17 L415.50,48.17 Z" stroke="none" stroke-width="1" fill="#8c8c8c"/>
<text x="426.30" y="49.50" font-size="6.3" font-weight="bold" text-anchor="start" fill="#000" stroke="#000" stroke-width="0.14">Crizotinib</text>
<line x1="59.60" y1="151.36" x2="59.60" y2="226.10" stroke="#5a5a5a" stroke-width="0.95"/>
<line x1="57.60" y1="225.60" x2="59.60" y2="225.60" stroke="#5a5a5a" stroke-width="1.0"/>
<text x="56.40" y="227.20" font-size="5.4" font-weight="bold" text-anchor="end" fill="#000" stroke="#000" stroke-width="0.1" letter-spacing="0.15">0</text>
<line x1="57.60" y1="207.04" x2="59.60" y2="207.04" stroke="#5a5a5a" stroke-width="1.0"/>
<text x="56.40" y="208.64" font-size="5.4" font-weight="bold" text-anchor="end" fill="#000" stroke="#000" stroke-width="0.1" letter-spacing="0.15">20</text>
<line x1="57.60" y1="188.48" x2="59.60" y2="188.48" stroke="#5a5a5a" stroke-width="1.0"/>
<text x="56.40" y="190.08" font-size="5.4" font-weight="bold" text-anchor="end" fill="#000" stroke="#000" stroke-width="0.1" letter-spacing="0.15">40</text>
<line x1="57.60" y1="169.92" x2="59.60" y2="169.92" stroke="#5a5a5a" stroke-width="1.0"/>
<text x="56.40" y="171.52" font-size="5.4" font-weight="bold" text-anchor="end" fill="#000" stroke="#000" stroke-width="0.1" letter-spacing="0.15">60</text>
<line x1="57.60" y1="151.36" x2="59.60" y2="151.36" stroke="#5a5a5a" stroke-width="1.0"/>
<text x="56.40" y="152.96" font-size="5.4" font-weight="bold" text-anchor="end" fill="#000" stroke="#000" stroke-width="0.1" letter-spacing="0.15">80</text>
<line x1="59.15" y1="225.60" x2="171.40" y2="225.60" stroke="#222" stroke-width="0.95"/>
<line x1="73.60" y1="225.60" x2="73.60" y2="227.80" stroke="#333" stroke-width="0.9"/>
<line x1="101.80" y1="225.60" x2="101.80" y2="227.80" stroke="#333" stroke-width="0.9"/>
<line x1="130.00" y1="225.60" x2="130.00" y2="227.80" stroke="#333" stroke-width="0.9"/>
<line x1="158.20" y1="225.60" x2="158.20" y2="227.80" stroke="#333" stroke-width="0.9"/>
<rect x="63.50" y="185.17" width="4.90" height="40.43" fill="#111" stroke="#000" stroke-width="0.8"/>
<rect x="71.10" y="188.88" width="4.90" height="36.72" fill="#8a8a8a" stroke="#000" stroke-width="0.8"/>
<rect x="78.70" y="210.69" width="4.90" height="14.91" fill="#fff" stroke="#000" stroke-width="0.8"/>
<rect x="91.70" y="164.75" width="4.90" height="60.85" fill="#111" stroke="#000" stroke-width="0.8"/>
<rect x="99.30" y="203.26" width="4.90" height="22.34" fill="#8a8a8a" stroke="#000" stroke-width="0.8"/>
<rect x="106.90" y="216.26" width="4.90" height="9.34" fill="#fff" stroke="#000" stroke-width="0.8"/>
<rect x="119.90" y="158.26" width="4.90" height="67.34" fill="#111" stroke="#000" stroke-width="0.8"/>
<rect x="127.50" y="207.44" width="4.90" height="18.16" fill="#8a8a8a" stroke="#000" stroke-width="0.8"/>
<rect x="135.10" y="218.11" width="4.90" height="7.49" fill="#fff" stroke="#000" stroke-width="0.8"/>
<rect x="148.10" y="157.79" width="4.90" height="67.81" fill="#111" stroke="#000" stroke-width="0.8"/>
<rect x="155.70" y="211.62" width="4.90" height="13.98" fill="#8a8a8a" stroke="#000" stroke-width="0.8"/>
<rect x="163.30" y="214.86" width="4.90" height="10.74" fill="#fff" stroke="#000" stroke-width="0.8"/>
<rect x="169.40" y="152.65" width="8.20" height="3.40" fill="#111" stroke="#000" stroke-width="0.8"/>
<rect x="169.40" y="160.80" width="8.20" height="3.40" fill="#8a8a8a" stroke="#000" stroke-width="0.8"/>
<rect x="169.40" y="169.30" width="8.20" height="3.40" fill="#fff" stroke="#000" stroke-width="0.8"/>
<text x="182.30" y="156.75" font-size="6.2" font-weight="normal" text-anchor="start" fill="#000" stroke="#000" stroke-width="0.15" letter-spacing="0.4">%G<tspan font-size="4.0" dy="1.5">1</tspan></text>
<text x="182.30" y="164.80" font-size="6.2" font-weight="normal" text-anchor="start" fill="#000" stroke="#000" stroke-width="0.15" letter-spacing="0.4">%S</text>
<text x="182.30" y="173.40" font-size="6.2" font-weight="normal" text-anchor="start" fill="#000" stroke="#000" stroke-width="0.15" letter-spacing="0.4">%G<tspan font-size="4.0" dy="1.5">2</tspan><tspan dy="-1.5">–M</tspan></text>
<text x="73.80" y="232.70" font-size="5.7" font-weight="bold" text-anchor="end" fill="#000" stroke="#000" stroke-width="0.14" transform="rotate(-45 73.8 232.7)">Vehicle</text>
<text x="106.70" y="233.30" font-size="5.7" font-weight="bold" text-anchor="end" fill="#000" stroke="#000" stroke-width="0.14" transform="rotate(-45 106.7 233.3)">50 nmol/L</text>
<text x="132.40" y="233.60" font-size="5.7" font-weight="bold" text-anchor="end" fill="#000" stroke="#000" stroke-width="0.14" transform="rotate(-45 132.4 233.6)">100 nmol/L</text>
<text x="162.70" y="233.60" font-size="5.7" font-weight="bold" text-anchor="end" fill="#000" stroke="#000" stroke-width="0.14" transform="rotate(-45 162.7 233.6)">200 nmol/L</text>
<line x1="91.00" y1="255.20" x2="167.00" y2="255.20" stroke="#555" stroke-width="1.0"/>
<text x="129.30" y="264.20" font-size="6.3" font-weight="bold" text-anchor="middle" fill="#000" stroke="#000" stroke-width="0.14">NVP-TAE684</text>
<text x="46.80" y="187.90" font-size="6.45" font-weight="normal" text-anchor="middle" fill="#000" stroke="#000" stroke-width="0.14" transform="rotate(-90 46.8 187.9)">% population</text>
<line x1="244.60" y1="152.00" x2="244.60" y2="226.50" stroke="#5a5a5a" stroke-width="0.95"/>
<line x1="242.60" y1="226.00" x2="244.60" y2="226.00" stroke="#5a5a5a" stroke-width="1.0"/>
<text x="241.40" y="227.60" font-size="5.4" font-weight="bold" text-anchor="end" fill="#000" stroke="#000" stroke-width="0.1" letter-spacing="0.15">0</text>
<line x1="242.60" y1="207.50" x2="244.60" y2="207.50" stroke="#5a5a5a" stroke-width="1.0"/>
<text x="241.40" y="209.10" font-size="5.4" font-weight="bold" text-anchor="end" fill="#000" stroke="#000" stroke-width="0.1" letter-spacing="0.15">20</text>
<line x1="242.60" y1="189.00" x2="244.60" y2="189.00" stroke="#5a5a5a" stroke-width="1.0"/>
<text x="241.40" y="190.60" font-size="5.4" font-weight="bold" text-anchor="end" fill="#000" stroke="#000" stroke-width="0.1" letter-spacing="0.15">40</text>
<line x1="242.60" y1="170.50" x2="244.60" y2="170.50" stroke="#5a5a5a" stroke-width="1.0"/>
<text x="241.40" y="172.10" font-size="5.4" font-weight="bold" text-anchor="end" fill="#000" stroke="#000" stroke-width="0.1" letter-spacing="0.15">60</text>
<line x1="242.60" y1="152.00" x2="244.60" y2="152.00" stroke="#5a5a5a" stroke-width="1.0"/>
<text x="241.40" y="153.60" font-size="5.4" font-weight="bold" text-anchor="end" fill="#000" stroke="#000" stroke-width="0.1" letter-spacing="0.15">80</text>
<line x1="244.15" y1="226.00" x2="356.20" y2="226.00" stroke="#222" stroke-width="0.95"/>
<line x1="259.30" y1="226.00" x2="259.30" y2="228.20" stroke="#333" stroke-width="0.9"/>
<line x1="287.00" y1="226.00" x2="287.00" y2="228.20" stroke="#333" stroke-width="0.9"/>
<line x1="315.00" y1="226.00" x2="315.00" y2="228.20" stroke="#333" stroke-width="0.9"/>
<line x1="342.60" y1="226.00" x2="342.60" y2="228.20" stroke="#333" stroke-width="0.9"/>
<rect x="249.70" y="187.55" width="4.80" height="38.45" fill="#111" stroke="#000" stroke-width="0.8"/>
<rect x="257.20" y="187.55" width="4.80" height="38.45" fill="#8a8a8a" stroke="#000" stroke-width="0.8"/>
<rect x="264.80" y="211.14" width="4.80" height="14.86" fill="#fff" stroke="#000" stroke-width="0.8"/>
<rect x="277.30" y="169.05" width="4.80" height="56.95" fill="#111" stroke="#000" stroke-width="0.8"/>
<rect x="284.80" y="203.28" width="4.80" height="22.73" fill="#8a8a8a" stroke="#000" stroke-width="0.8"/>
<rect x="292.40" y="213.91" width="4.80" height="12.09" fill="#fff" stroke="#000" stroke-width="0.8"/>
<rect x="305.30" y="172.75" width="4.80" height="53.25" fill="#111" stroke="#000" stroke-width="0.8"/>
<rect x="312.80" y="206.05" width="4.80" height="19.95" fill="#8a8a8a" stroke="#000" stroke-width="0.8"/>
<rect x="320.40" y="206.05" width="4.80" height="19.95" fill="#fff" stroke="#000" stroke-width="0.8"/>
<rect x="333.00" y="205.12" width="4.80" height="20.88" fill="#111" stroke="#000" stroke-width="0.8"/>
<rect x="340.50" y="209.75" width="4.80" height="16.25" fill="#8a8a8a" stroke="#000" stroke-width="0.8"/>
<rect x="348.10" y="170.44" width="4.80" height="55.56" fill="#fff" stroke="#000" stroke-width="0.8"/>
<rect x="358.60" y="152.80" width="8.20" height="3.40" fill="#111" stroke="#000" stroke-width="0.8"/>
<rect x="358.60" y="161.40" width="8.20" height="3.40" fill="#8a8a8a" stroke="#000" stroke-width="0.8"/>
<rect x="358.60" y="169.90" width="8.20" height="3.40" fill="#fff" stroke="#000" stroke-width="0.8"/>
<text x="370.80" y="156.90" font-size="6.2" font-weight="normal" text-anchor="start" fill="#000" stroke="#000" stroke-width="0.15" letter-spacing="0.4">%G<tspan font-size="4.0" dy="1.5">1</tspan></text>
<text x="370.80" y="165.40" font-size="6.2" font-weight="normal" text-anchor="start" fill="#000" stroke="#000" stroke-width="0.15" letter-spacing="0.4">%S</text>
<text x="370.80" y="174.00" font-size="6.2" font-weight="normal" text-anchor="start" fill="#000" stroke="#000" stroke-width="0.15" letter-spacing="0.4">%G<tspan font-size="4.0" dy="1.5">2</tspan><tspan dy="-1.5">–M</tspan></text>
<text x="262.40" y="231.60" font-size="5.7" font-weight="bold" text-anchor="end" fill="#000" stroke="#000" stroke-width="0.14" transform="rotate(-45 262.4 231.6)">Vehicle</text>
<text x="290.30" y="232.20" font-size="5.7" font-weight="bold" text-anchor="end" fill="#000" stroke="#000" stroke-width="0.14" transform="rotate(-45 290.3 232.2)">500 nmol/L</text>
<text x="318.10" y="232.90" font-size="5.7" font-weight="bold" text-anchor="end" fill="#000" stroke="#000" stroke-width="0.14" transform="rotate(-45 318.1 232.9)">1,000 nmol/L</text>
<text x="345.70" y="232.90" font-size="5.7" font-weight="bold" text-anchor="end" fill="#000" stroke="#000" stroke-width="0.14" transform="rotate(-45 345.7 232.9)">2,000 nmol/L</text>
<line x1="277.00" y1="258.30" x2="352.70" y2="258.30" stroke="#555" stroke-width="1.0"/>
<text x="315.15" y="267.30" font-size="6.3" font-weight="bold" text-anchor="middle" fill="#000" stroke="#000" stroke-width="0.14">Crizotinib</text>
<text x="233.00" y="187.60" font-size="6.25" font-weight="normal" text-anchor="middle" fill="#000" stroke="#000" stroke-width="0.14" transform="rotate(-90 233.0 187.6)">% population</text>
<defs><filter id="bl" x="-1" y="-1" width="3" height="3"><feGaussianBlur stdDeviation="0.75"/></filter></defs>
<rect x="13.80" y="313.00" width="163.00" height="50.90" fill="#b9b9b9"/>
<circle cx="20.40" cy="321.60" r="2.2" fill="#1e1e1e" filter="url(#bl)"/>
<circle cx="26.40" cy="321.60" r="2.2" fill="#1e1e1e" filter="url(#bl)"/>
<circle cx="20.40" cy="331.10" r="2.4" fill="#1e1e1e" filter="url(#bl)"/>
<circle cx="26.40" cy="331.10" r="2.4" fill="#1e1e1e" filter="url(#bl)"/>
<circle cx="32.60" cy="336.70" r="2.05" fill="#1e1e1e" filter="url(#bl)"/>
<circle cx="38.40" cy="336.70" r="2.05" fill="#1e1e1e" filter="url(#bl)"/>
<circle cx="20.40" cy="357.80" r="2.5" fill="#1e1e1e" filter="url(#bl)"/>
<circle cx="26.40" cy="357.80" r="2.5" fill="#1e1e1e" filter="url(#bl)"/>
<circle cx="161.90" cy="320.50" r="2.4" fill="#1e1e1e" filter="url(#bl)"/>
<circle cx="167.70" cy="320.50" r="2.4" fill="#1e1e1e" filter="url(#bl)"/>
<circle cx="163.40" cy="355.60" r="2.45" fill="#1e1e1e" filter="url(#bl)"/>
<circle cx="169.30" cy="355.60" r="2.45" fill="#1e1e1e" filter="url(#bl)"/>
<text x="58.20" y="296.80" font-size="7.15" font-weight="bold" text-anchor="start" fill="#000" stroke="#000" stroke-width="0.14">Phospho-EGFR</text>
<text x="55.00" y="381.90" font-size="7.2" font-weight="bold" text-anchor="start" fill="#000" stroke="#000" stroke-width="0.14">Phospho-MET</text>
<line x1="55.60" y1="297.50" x2="31.80" y2="328.60" stroke="#111" stroke-width="1.1"/>
<line x1="31.80" y1="328.60" x2="36.97" y2="326.45" stroke="#111" stroke-width="1.1"/>
<line x1="31.80" y1="328.60" x2="32.52" y2="323.05" stroke="#111" stroke-width="1.1"/>
<line x1="52.00" y1="375.50" x2="39.20" y2="339.40" stroke="#111" stroke-width="1.1"/>
<line x1="39.20" y1="339.40" x2="38.18" y2="344.91" stroke="#111" stroke-width="1.1"/>
<line x1="39.20" y1="339.40" x2="43.46" y2="343.04" stroke="#111" stroke-width="1.1"/>
<line x1="203.70" y1="296.80" x2="203.70" y2="376.50" stroke="#2a2a2a" stroke-width="0.95"/>
<line x1="201.70" y1="371.00" x2="203.70" y2="371.00" stroke="#2a2a2a" stroke-width="1.0"/>
<text x="201.40" y="373.30" font-size="5.4" font-weight="bold" text-anchor="end" fill="#000" stroke="#000" stroke-width="0.1" letter-spacing="0.15">0</text>
<line x1="201.70" y1="359.62" x2="203.70" y2="359.62" stroke="#2a2a2a" stroke-width="1.0"/>
<text x="201.40" y="361.92" font-size="5.4" font-weight="bold" text-anchor="end" fill="#000" stroke="#000" stroke-width="0.1" letter-spacing="0.15">20</text>
<line x1="201.70" y1="348.24" x2="203.70" y2="348.24" stroke="#2a2a2a" stroke-width="1.0"/>
<text x="201.40" y="350.54" font-size="5.4" font-weight="bold" text-anchor="end" fill="#000" stroke="#000" stroke-width="0.1" letter-spacing="0.15">40</text>
<line x1="201.70" y1="336.86" x2="203.70" y2="336.86" stroke="#2a2a2a" stroke-width="1.0"/>
<text x="201.40" y="339.16" font-size="5.4" font-weight="bold" text-anchor="end" fill="#000" stroke="#000" stroke-width="0.1" letter-spacing="0.15">60</text>
<line x1="201.70" y1="325.48" x2="203.70" y2="325.48" stroke="#2a2a2a" stroke-width="1.0"/>
<text x="201.40" y="327.78" font-size="5.4" font-weight="bold" text-anchor="end" fill="#000" stroke="#000" stroke-width="0.1" letter-spacing="0.15">80</text>
<line x1="201.70" y1="314.10" x2="203.70" y2="314.10" stroke="#2a2a2a" stroke-width="1.0"/>
<text x="201.40" y="316.40" font-size="5.4" font-weight="bold" text-anchor="end" fill="#000" stroke="#000" stroke-width="0.1" letter-spacing="0.15">100</text>
<line x1="201.70" y1="302.72" x2="203.70" y2="302.72" stroke="#2a2a2a" stroke-width="1.0"/>
<text x="201.40" y="305.02" font-size="5.4" font-weight="bold" text-anchor="end" fill="#000" stroke="#000" stroke-width="0.1" letter-spacing="0.15">120</text>
<line x1="203.25" y1="371.00" x2="321.60" y2="371.00" stroke="#2a2a2a" stroke-width="0.95"/>
<line x1="232.70" y1="371.00" x2="232.70" y2="373.20" stroke="#2a2a2a" stroke-width="1.0"/>
<text x="233.10" y="379.50" font-size="5.45" font-weight="bold" text-anchor="middle" fill="#000" stroke="#000" stroke-width="0.1">10</text>
<line x1="261.30" y1="371.00" x2="261.30" y2="373.20" stroke="#2a2a2a" stroke-width="1.0"/>
<text x="261.70" y="379.50" font-size="5.45" font-weight="bold" text-anchor="middle" fill="#000" stroke="#000" stroke-width="0.1">100</text>
<line x1="289.90" y1="371.00" x2="289.90" y2="373.20" stroke="#2a2a2a" stroke-width="1.0"/>
<text x="290.30" y="379.50" font-size="5.45" font-weight="bold" text-anchor="middle" fill="#000" stroke="#000" stroke-width="0.1">1,000</text>
<line x1="318.50" y1="371.00" x2="318.50" y2="373.20" stroke="#2a2a2a" stroke-width="1.0"/>
<text x="318.90" y="379.50" font-size="5.45" font-weight="bold" text-anchor="middle" fill="#000" stroke="#000" stroke-width="0.1">10,000</text>
<text x="248.90" y="293.00" font-size="6.6" font-weight="bold" text-anchor="start" fill="#000" stroke="#000" stroke-width="0.14">HCC78</text>
<text x="268.00" y="388.80" font-size="6.4" font-weight="bold" text-anchor="middle" fill="#000" stroke="#000" stroke-width="0.14">(nmol/L)</text>
<text x="189.40" y="336.60" font-size="7.2" font-weight="normal" text-anchor="middle" fill="#000" stroke="#000" stroke-width="0.14" transform="rotate(-90 189.4 336.6)">% of vehicle</text>
<path d="M208.20,311.20 L209.59,311.20 L210.97,311.20 L212.36,311.20 L213.75,311.20 L215.14,311.20 L216.52,311.20 L217.91,311.20 L219.30,311.20 L220.69,311.20 L222.07,311.20 L223.46,311.20 L224.85,311.20 L226.24,311.20 L227.62,311.20 L229.01,311.21 L230.40,311.21 L231.79,311.21 L233.17,311.21 L234.56,311.22 L235.95,311.22 L237.34,311.23 L238.72,311.24 L240.11,311.26 L241.50,311.27 L242.89,311.30 L244.27,311.33 L245.66,311.37 L247.05,311.43 L248.44,311.50 L249.82,311.59 L251.21,311.71 L252.60,311.86 L253.99,312.06 L255.38,312.29 L256.76,312.58 L258.15,312.91 L259.54,313.30 L260.93,313.72 L262.31,314.17 L263.70,314.63 L265.09,315.08 L266.47,315.50 L267.86,315.89 L269.25,316.22 L270.64,316.51 L272.02,316.75 L273.41,316.94 L274.80,317.09 L276.19,317.21 L277.57,317.30 L278.96,317.37 L280.35,317.43 L281.74,317.47 L283.12,317.50 L284.51,317.53 L285.90,317.54 L287.29,317.56 L288.67,317.57 L290.06,317.58 L291.45,317.58 L292.84,317.59 L294.23,317.59 L295.61,317.59 L297.00,317.59 L298.39,317.60 L299.77,317.60 L301.16,317.60 L302.55,317.60 L303.94,317.60 L305.32,317.60 L306.71,317.60 L308.10,317.60 L309.49,317.60 L310.88,317.60 L312.26,317.60 L313.65,317.60 L315.04,317.60 L316.42,317.60 L317.81,317.60 L319.20,317.60" stroke="#111" stroke-width="1.1" fill="none"/>
<path d="M208.20,312.30 L209.59,312.30 L210.97,312.30 L212.36,312.30 L213.75,312.30 L215.14,312.30 L216.52,312.30 L217.91,312.30 L219.30,312.30 L220.69,312.30 L222.07,312.30 L223.46,312.30 L224.85,312.30 L226.24,312.30 L227.62,312.30 L229.01,312.30 L230.40,312.30 L231.79,312.30 L233.17,312.30 L234.56,312.30 L235.95,312.30 L237.34,312.30 L238.72,312.31 L240.11,312.31 L241.50,312.31 L242.89,312.31 L244.27,312.31 L245.66,312.31 L247.05,312.32 L248.44,312.32 L249.82,312.32 L251.21,312.33 L252.60,312.33 L253.99,312.34 L255.38,312.35 L256.76,312.36 L258.15,312.37 L259.54,312.39 L260.93,312.41 L262.31,312.43 L263.70,312.46 L265.09,312.49 L266.47,312.52 L267.86,312.57 L269.25,312.62 L270.64,312.67 L272.02,312.74 L273.41,312.82 L274.80,312.91 L276.19,313.01 L277.57,313.12 L278.96,313.24 L280.35,313.37 L281.74,313.51 L283.12,313.65 L284.51,313.80 L285.90,313.95 L287.29,314.09 L288.67,314.24 L290.06,314.37 L291.45,314.50 L292.84,314.62 L294.23,314.72 L295.61,314.82 L297.00,314.90 L298.39,314.98 L299.77,315.04 L301.16,315.10 L302.55,315.15 L303.94,315.19 L305.32,315.22 L306.71,315.25 L308.10,315.28 L309.49,315.30 L310.88,315.32 L312.26,315.33 L313.65,315.34 L315.04,315.35 L316.42,315.36 L317.81,315.37 L319.20,315.37" stroke="#8c8c8c" stroke-width="1.0" fill="none"/>
<circle cx="208.20" cy="315.20" r="1.6" fill="#111"/>
<circle cx="222.30" cy="307.40" r="1.6" fill="#111"/>
<circle cx="235.60" cy="311.20" r="1.6" fill="#111"/>
<circle cx="249.10" cy="313.20" r="1.6" fill="#111"/>
<circle cx="263.50" cy="314.00" r="1.6" fill="#111"/>
<circle cx="277.10" cy="317.50" r="1.6" fill="#111"/>
<circle cx="291.00" cy="317.00" r="1.6" fill="#111"/>
<circle cx="304.80" cy="317.00" r="1.6" fill="#111"/>
<circle cx="319.20" cy="318.40" r="1.6" fill="#111"/>
<rect x="206.70" y="311.70" width="3.00" height="3.00" fill="#8c8c8c"/>
<rect x="220.80" y="314.50" width="3.00" height="3.00" fill="#8c8c8c"/>
<rect x="234.10" y="309.40" width="3.00" height="3.00" fill="#8c8c8c"/>
<rect x="247.60" y="309.70" width="3.00" height="3.00" fill="#8c8c8c"/>
<rect x="262.00" y="312.20" width="3.00" height="3.00" fill="#8c8c8c"/>
<rect x="275.60" y="312.20" width="3.00" height="3.00" fill="#8c8c8c"/>
<rect x="289.50" y="315.10" width="3.00" height="3.00" fill="#8c8c8c"/>
<rect x="303.30" y="315.10" width="3.00" height="3.00" fill="#8c8c8c"/>
<rect x="317.70" y="311.10" width="3.00" height="3.00" fill="#8c8c8c"/>
<line x1="276.40" y1="344.20" x2="285.00" y2="344.20" stroke="#111" stroke-width="1"/>
<circle cx="280.70" cy="344.20" r="1.5" fill="#111"/>
<text x="289.50" y="346.50" font-size="6.4" font-weight="bold" text-anchor="start" fill="#000" stroke="#000" stroke-width="0.14">PF-04217903</text>
<line x1="276.40" y1="353.10" x2="285.00" y2="353.10" stroke="#8c8c8c" stroke-width="1"/>
<rect x="279.30" y="351.70" width="2.80" height="2.80" fill="#8c8c8c"/>
<text x="289.50" y="355.60" font-size="6.4" font-weight="bold" text-anchor="start" fill="#000" stroke="#000" stroke-width="0.14">Gefitinib</text>
<line x1="355.50" y1="296.80" x2="355.50" y2="376.40" stroke="#2a2a2a" stroke-width="0.95"/>
<line x1="353.50" y1="370.90" x2="355.50" y2="370.90" stroke="#2a2a2a" stroke-width="1.0"/>
<text x="353.20" y="373.20" font-size="5.4" font-weight="bold" text-anchor="end" fill="#000" stroke="#000" stroke-width="0.1" letter-spacing="0.15">0</text>
<line x1="353.50" y1="359.33" x2="355.50" y2="359.33" stroke="#2a2a2a" stroke-width="1.0"/>
<text x="353.20" y="361.63" font-size="5.4" font-weight="bold" text-anchor="end" fill="#000" stroke="#000" stroke-width="0.1" letter-spacing="0.15">20</text>
<line x1="353.50" y1="347.76" x2="355.50" y2="347.76" stroke="#2a2a2a" stroke-width="1.0"/>
<text x="353.20" y="350.06" font-size="5.4" font-weight="bold" text-anchor="end" fill="#000" stroke="#000" stroke-width="0.1" letter-spacing="0.15">40</text>
<line x1="353.50" y1="336.19" x2="355.50" y2="336.19" stroke="#2a2a2a" stroke-width="1.0"/>
<text x="353.20" y="338.49" font-size="5.4" font-weight="bold" text-anchor="end" fill="#000" stroke="#000" stroke-width="0.1" letter-spacing="0.15">60</text>
<line x1="353.50" y1="324.62" x2="355.50" y2="324.62" stroke="#2a2a2a" stroke-width="1.0"/>
<text x="353.20" y="326.92" font-size="5.4" font-weight="bold" text-anchor="end" fill="#000" stroke="#000" stroke-width="0.1" letter-spacing="0.15">80</text>
<line x1="353.50" y1="313.05" x2="355.50" y2="313.05" stroke="#2a2a2a" stroke-width="1.0"/>
<text x="353.20" y="315.35" font-size="5.4" font-weight="bold" text-anchor="end" fill="#000" stroke="#000" stroke-width="0.1" letter-spacing="0.15">100</text>
<line x1="353.50" y1="301.48" x2="355.50" y2="301.48" stroke="#2a2a2a" stroke-width="1.0"/>
<text x="353.20" y="303.78" font-size="5.4" font-weight="bold" text-anchor="end" fill="#000" stroke="#000" stroke-width="0.1" letter-spacing="0.15">120</text>
<line x1="355.05" y1="370.90" x2="468.60" y2="370.90" stroke="#2a2a2a" stroke-width="0.95"/>
<line x1="376.70" y1="370.90" x2="376.70" y2="373.10" stroke="#2a2a2a" stroke-width="1.0"/>
<text x="377.10" y="379.40" font-size="5.45" font-weight="bold" text-anchor="middle" fill="#000" stroke="#000" stroke-width="0.1">1</text>
<line x1="404.30" y1="370.90" x2="404.30" y2="373.10" stroke="#2a2a2a" stroke-width="1.0"/>
<text x="404.70" y="379.40" font-size="5.45" font-weight="bold" text-anchor="middle" fill="#000" stroke="#000" stroke-width="0.1">10</text>
<line x1="431.90" y1="370.90" x2="431.90" y2="373.10" stroke="#2a2a2a" stroke-width="1.0"/>
<text x="432.30" y="379.40" font-size="5.45" font-weight="bold" text-anchor="middle" fill="#000" stroke="#000" stroke-width="0.1">100</text>
<line x1="459.50" y1="370.90" x2="459.50" y2="373.10" stroke="#2a2a2a" stroke-width="1.0"/>
<text x="459.90" y="379.40" font-size="5.45" font-weight="bold" text-anchor="middle" fill="#000" stroke="#000" stroke-width="0.1">1,000</text>
<text x="400.10" y="291.30" font-size="6.3" font-weight="bold" text-anchor="start" fill="#000" stroke="#000" stroke-width="0.14">HCC78</text>
<text x="418.20" y="386.40" font-size="6.2" font-weight="bold" text-anchor="middle" fill="#000" stroke="#000" stroke-width="0.14">NVP-TAE684 (nmol/L)</text>
<text x="342.60" y="332.60" font-size="6.75" font-weight="normal" text-anchor="middle" fill="#000" stroke="#000" stroke-width="0.14" transform="rotate(-90 342.6 332.6)">% of ‘+ vehicle’ vehicle</text>
<path d="M360.10,309.74 L361.39,309.75 L362.67,309.77 L363.96,309.79 L365.24,309.82 L366.53,309.84 L367.81,309.88 L369.10,309.91 L370.38,309.95 L371.67,310.00 L372.95,310.06 L374.24,310.12 L375.52,310.19 L376.81,310.28 L378.09,310.37 L379.38,310.48 L380.66,310.60 L381.94,310.75 L383.23,310.91 L384.51,311.09 L385.80,311.30 L387.09,311.54 L388.37,311.81 L389.66,312.12 L390.94,312.47 L392.23,312.87 L393.51,313.32 L394.80,313.82 L396.08,314.39 L397.37,315.02 L398.65,315.73 L399.94,316.52 L401.22,317.40 L402.50,318.36 L403.79,319.43 L405.07,320.59 L406.36,321.85 L407.64,323.21 L408.93,324.67 L410.21,326.23 L411.50,327.87 L412.79,329.59 L414.07,331.38 L415.36,333.22 L416.64,335.10 L417.93,336.99 L419.21,338.89 L420.50,340.78 L421.78,342.62 L423.06,344.42 L424.35,346.16 L425.63,347.82 L426.92,349.39 L428.20,350.87 L429.49,352.25 L430.77,353.54 L432.06,354.72 L433.35,355.80 L434.63,356.79 L435.91,357.68 L437.20,358.49 L438.49,359.21 L439.77,359.86 L441.05,360.44 L442.34,360.96 L443.62,361.42 L444.91,361.82 L446.19,362.18 L447.48,362.50 L448.76,362.78 L450.05,363.02 L451.33,363.24 L452.62,363.43 L453.90,363.59 L455.19,363.74 L456.47,363.86 L457.76,363.98 L459.04,364.07 L460.33,364.16 L461.62,364.23 L462.90,364.30" stroke="#8c8c8c" stroke-width="1.0" fill="none"/>
<path d="M360.10,311.30 L361.39,311.31 L362.67,311.31 L363.96,311.32 L365.24,311.33 L366.53,311.34 L367.81,311.35 L369.10,311.36 L370.38,311.37 L371.67,311.38 L372.95,311.40 L374.24,311.42 L375.52,311.44 L376.81,311.46 L378.09,311.49 L379.38,311.52 L380.66,311.56 L381.94,311.60 L383.23,311.65 L384.51,311.70 L385.80,311.76 L387.09,311.83 L388.37,311.91 L389.66,312.00 L390.94,312.10 L392.23,312.22 L393.51,312.35 L394.80,312.50 L396.08,312.67 L397.37,312.86 L398.65,313.08 L399.94,313.32 L401.22,313.60 L402.50,313.92 L403.79,314.27 L405.07,314.67 L406.36,315.11 L407.64,315.61 L408.93,316.17 L410.21,316.79 L411.50,317.47 L412.79,318.23 L414.07,319.07 L415.36,319.98 L416.64,320.98 L417.93,322.06 L419.21,323.22 L420.50,324.47 L421.78,325.80 L423.06,327.21 L424.35,328.69 L425.63,330.22 L426.92,331.81 L428.20,333.43 L429.49,335.08 L430.77,336.74 L432.06,338.40 L433.35,340.03 L434.63,341.64 L435.91,343.19 L437.20,344.70 L438.49,346.13 L439.77,347.50 L441.05,348.78 L442.34,349.98 L443.62,351.10 L444.91,352.14 L446.19,353.09 L447.48,353.95 L448.76,354.74 L450.05,355.46 L451.33,356.11 L452.62,356.69 L453.90,357.21 L455.19,357.68 L456.47,358.10 L457.76,358.47 L459.04,358.80 L460.33,359.09 L461.62,359.35 L462.90,359.58" stroke="#111" stroke-width="1.0" fill="none" stroke-dasharray="1.6 1.2"/>
<path d="M360.10,309.03 L361.39,309.03 L362.67,309.04 L363.96,309.05 L365.24,309.06 L366.53,309.07 L367.81,309.08 L369.10,309.10 L370.38,309.11 L371.67,309.13 L372.95,309.15 L374.24,309.17 L375.52,309.20 L376.81,309.23 L378.09,309.26 L379.38,309.30 L380.66,309.34 L381.94,309.39 L383.23,309.45 L384.51,309.51 L385.80,309.58 L387.09,309.66 L388.37,309.75 L389.66,309.86 L390.94,309.97 L392.23,310.11 L393.51,310.25 L394.80,310.42 L396.08,310.61 L397.37,310.83 L398.65,311.07 L399.94,311.34 L401.22,311.65 L402.50,311.99 L403.79,312.37 L405.07,312.80 L406.36,313.28 L407.64,313.81 L408.93,314.40 L410.21,315.06 L411.50,315.78 L412.79,316.57 L414.07,317.44 L415.36,318.39 L416.64,319.42 L417.93,320.54 L419.21,321.73 L420.50,323.01 L421.78,324.37 L423.06,325.80 L424.35,327.30 L425.63,328.86 L426.92,330.47 L428.20,332.12 L429.49,333.80 L430.77,335.49 L432.06,337.18 L433.35,338.86 L434.63,340.51 L435.91,342.12 L437.20,343.68 L438.49,345.18 L439.77,346.61 L441.05,347.97 L442.34,349.25 L443.62,350.44 L444.91,351.56 L446.19,352.59 L447.48,353.54 L448.76,354.41 L450.05,355.20 L451.33,355.93 L452.62,356.58 L453.90,357.17 L455.19,357.71 L456.47,358.19 L457.76,358.62 L459.04,359.00 L460.33,359.34 L461.62,359.65 L462.90,359.92" stroke="#111" stroke-width="1.5" fill="none"/>
<line x1="360.10" y1="307.60" x2="360.10" y2="310.60" stroke="#8c8c8c" stroke-width="1.0"/>
<line x1="358.50" y1="307.60" x2="361.70" y2="307.60" stroke="#8c8c8c" stroke-width="1.0"/>
<line x1="358.50" y1="310.60" x2="361.70" y2="310.60" stroke="#8c8c8c" stroke-width="1.0"/>
<rect x="358.70" y="307.70" width="2.80" height="2.80" fill="#8c8c8c"/>
<line x1="373.10" y1="309.00" x2="373.10" y2="312.00" stroke="#8c8c8c" stroke-width="1.0"/>
<line x1="371.50" y1="309.00" x2="374.70" y2="309.00" stroke="#8c8c8c" stroke-width="1.0"/>
<line x1="371.50" y1="312.00" x2="374.70" y2="312.00" stroke="#8c8c8c" stroke-width="1.0"/>
<rect x="371.70" y="309.10" width="2.80" height="2.80" fill="#8c8c8c"/>
<line x1="385.70" y1="309.70" x2="385.70" y2="312.70" stroke="#8c8c8c" stroke-width="1.0"/>
<line x1="384.10" y1="309.70" x2="387.30" y2="309.70" stroke="#8c8c8c" stroke-width="1.0"/>
<line x1="384.10" y1="312.70" x2="387.30" y2="312.70" stroke="#8c8c8c" stroke-width="1.0"/>
<rect x="384.30" y="309.80" width="2.80" height="2.80" fill="#8c8c8c"/>
<line x1="398.70" y1="315.00" x2="398.70" y2="318.00" stroke="#8c8c8c" stroke-width="1.0"/>
<line x1="397.10" y1="315.00" x2="400.30" y2="315.00" stroke="#8c8c8c" stroke-width="1.0"/>
<line x1="397.10" y1="318.00" x2="400.30" y2="318.00" stroke="#8c8c8c" stroke-width="1.0"/>
<rect x="397.30" y="315.10" width="2.80" height="2.80" fill="#8c8c8c"/>
<line x1="411.70" y1="325.80" x2="411.70" y2="328.80" stroke="#8c8c8c" stroke-width="1.0"/>
<line x1="410.10" y1="325.80" x2="413.30" y2="325.80" stroke="#8c8c8c" stroke-width="1.0"/>
<line x1="410.10" y1="328.80" x2="413.30" y2="328.80" stroke="#8c8c8c" stroke-width="1.0"/>
<rect x="410.30" y="325.90" width="2.80" height="2.80" fill="#8c8c8c"/>
<line x1="424.30" y1="345.20" x2="424.30" y2="348.20" stroke="#8c8c8c" stroke-width="1.0"/>
<line x1="422.70" y1="345.20" x2="425.90" y2="345.20" stroke="#8c8c8c" stroke-width="1.0"/>
<line x1="422.70" y1="348.20" x2="425.90" y2="348.20" stroke="#8c8c8c" stroke-width="1.0"/>
<rect x="422.90" y="345.30" width="2.80" height="2.80" fill="#8c8c8c"/>
<line x1="437.30" y1="357.00" x2="437.30" y2="360.00" stroke="#8c8c8c" stroke-width="1.0"/>
<line x1="435.70" y1="357.00" x2="438.90" y2="357.00" stroke="#8c8c8c" stroke-width="1.0"/>
<line x1="435.70" y1="360.00" x2="438.90" y2="360.00" stroke="#8c8c8c" stroke-width="1.0"/>
<rect x="435.90" y="357.10" width="2.80" height="2.80" fill="#8c8c8c"/>
<line x1="450.40" y1="360.80" x2="450.40" y2="363.80" stroke="#8c8c8c" stroke-width="1.0"/>
<line x1="448.80" y1="360.80" x2="452.00" y2="360.80" stroke="#8c8c8c" stroke-width="1.0"/>
<line x1="448.80" y1="363.80" x2="452.00" y2="363.80" stroke="#8c8c8c" stroke-width="1.0"/>
<rect x="449.00" y="360.90" width="2.80" height="2.80" fill="#8c8c8c"/>
<line x1="462.90" y1="363.40" x2="462.90" y2="366.40" stroke="#8c8c8c" stroke-width="1.0"/>
<line x1="461.30" y1="363.40" x2="464.50" y2="363.40" stroke="#8c8c8c" stroke-width="1.0"/>
<line x1="461.30" y1="366.40" x2="464.50" y2="366.40" stroke="#8c8c8c" stroke-width="1.0"/>
<rect x="461.50" y="363.50" width="2.80" height="2.80" fill="#8c8c8c"/>
<path d="M360.10,309.64 L361.60,312.37 L358.61,312.37 Z" stroke="none" stroke-width="1" fill="#111"/>
<path d="M373.10,310.24 L374.60,312.97 L371.61,312.97 Z" stroke="none" stroke-width="1" fill="#111"/>
<path d="M385.70,312.24 L387.19,314.97 L384.20,314.97 Z" stroke="none" stroke-width="1" fill="#111"/>
<path d="M398.70,310.24 L400.19,312.97 L397.20,312.97 Z" stroke="none" stroke-width="1" fill="#111"/>
<path d="M411.70,313.44 L413.19,316.17 L410.20,316.17 Z" stroke="none" stroke-width="1" fill="#111"/>
<path d="M424.30,329.14 L425.80,331.87 L422.81,331.87 Z" stroke="none" stroke-width="1" fill="#111"/>
<path d="M437.30,343.44 L438.80,346.17 L435.81,346.17 Z" stroke="none" stroke-width="1" fill="#111"/>
<path d="M450.40,351.44 L451.89,354.17 L448.90,354.17 Z" stroke="none" stroke-width="1" fill="#111"/>
<path d="M462.90,359.94 L464.39,362.67 L461.40,362.67 Z" stroke="none" stroke-width="1" fill="#111"/>
<line x1="360.10" y1="306.50" x2="360.10" y2="310.50" stroke="#111" stroke-width="1.0"/>
<line x1="358.50" y1="306.50" x2="361.70" y2="306.50" stroke="#111" stroke-width="1.0"/>
<line x1="358.50" y1="310.50" x2="361.70" y2="310.50" stroke="#111" stroke-width="1.0"/>
<circle cx="360.10" cy="308.50" r="1.5" fill="#111"/>
<line x1="373.10" y1="308.50" x2="373.10" y2="312.50" stroke="#111" stroke-width="1.0"/>
<line x1="371.50" y1="308.50" x2="374.70" y2="308.50" stroke="#111" stroke-width="1.0"/>
<line x1="371.50" y1="312.50" x2="374.70" y2="312.50" stroke="#111" stroke-width="1.0"/>
<circle cx="373.10" cy="310.50" r="1.5" fill="#111"/>
<line x1="385.70" y1="307.50" x2="385.70" y2="311.50" stroke="#111" stroke-width="1.0"/>
<line x1="384.10" y1="307.50" x2="387.30" y2="307.50" stroke="#111" stroke-width="1.0"/>
<line x1="384.10" y1="311.50" x2="387.30" y2="311.50" stroke="#111" stroke-width="1.0"/>
<circle cx="385.70" cy="309.50" r="1.5" fill="#111"/>
<line x1="398.70" y1="308.90" x2="398.70" y2="312.90" stroke="#111" stroke-width="1.0"/>
<line x1="397.10" y1="308.90" x2="400.30" y2="308.90" stroke="#111" stroke-width="1.0"/>
<line x1="397.10" y1="312.90" x2="400.30" y2="312.90" stroke="#111" stroke-width="1.0"/>
<circle cx="398.70" cy="310.90" r="1.5" fill="#111"/>
<line x1="411.70" y1="312.80" x2="411.70" y2="316.80" stroke="#111" stroke-width="1.0"/>
<line x1="410.10" y1="312.80" x2="413.30" y2="312.80" stroke="#111" stroke-width="1.0"/>
<line x1="410.10" y1="316.80" x2="413.30" y2="316.80" stroke="#111" stroke-width="1.0"/>
<circle cx="411.70" cy="314.80" r="1.5" fill="#111"/>
<line x1="424.30" y1="325.60" x2="424.30" y2="329.60" stroke="#111" stroke-width="1.0"/>
<line x1="422.70" y1="325.60" x2="425.90" y2="325.60" stroke="#111" stroke-width="1.0"/>
<line x1="422.70" y1="329.60" x2="425.90" y2="329.60" stroke="#111" stroke-width="1.0"/>
<circle cx="424.30" cy="327.60" r="1.5" fill="#111"/>
<line x1="437.30" y1="343.00" x2="437.30" y2="347.00" stroke="#111" stroke-width="1.0"/>
<line x1="435.70" y1="343.00" x2="438.90" y2="343.00" stroke="#111" stroke-width="1.0"/>
<line x1="435.70" y1="347.00" x2="438.90" y2="347.00" stroke="#111" stroke-width="1.0"/>
<circle cx="437.30" cy="345.00" r="1.5" fill="#111"/>
<line x1="450.40" y1="350.80" x2="450.40" y2="354.80" stroke="#111" stroke-width="1.0"/>
<line x1="448.80" y1="350.80" x2="452.00" y2="350.80" stroke="#111" stroke-width="1.0"/>
<line x1="448.80" y1="354.80" x2="452.00" y2="354.80" stroke="#111" stroke-width="1.0"/>
<circle cx="450.40" cy="352.80" r="1.5" fill="#111"/>
<line x1="462.90" y1="359.50" x2="462.90" y2="363.50" stroke="#111" stroke-width="1.0"/>
<line x1="461.30" y1="359.50" x2="464.50" y2="359.50" stroke="#111" stroke-width="1.0"/>
<line x1="461.30" y1="363.50" x2="464.50" y2="363.50" stroke="#111" stroke-width="1.0"/>
<circle cx="462.90" cy="361.50" r="1.5" fill="#111"/>
<line x1="430.00" y1="300.60" x2="438.60" y2="300.60" stroke="#111" stroke-width="1.3"/>
<circle cx="434.30" cy="300.60" r="1.5" fill="#111"/>
<text x="441.10" y="302.90" font-size="6.3" font-weight="bold" text-anchor="start" fill="#000" stroke="#000" stroke-width="0.14">+ Vehicle</text>
<line x1="430.00" y1="310.30" x2="438.60" y2="310.30" stroke="#8c8c8c" stroke-width="1"/>
<rect x="432.90" y="308.90" width="2.80" height="2.80" fill="#8c8c8c"/>
<text x="441.10" y="312.60" font-size="6.3" font-weight="bold" text-anchor="start" fill="#000" stroke="#000" stroke-width="0.14">+ 1 umol/L gefitinib</text>
<line x1="430.00" y1="319.00" x2="438.60" y2="319.00" stroke="#111" stroke-width="1" stroke-dasharray="1.5 1.2"/>
<path d="M434.30,317.44 L435.80,320.17 L432.81,320.17 Z" stroke="none" stroke-width="1" fill="#111"/>
<text x="441.10" y="321.30" font-size="6.3" font-weight="bold" text-anchor="start" fill="#000" stroke="#000" stroke-width="0.14">+ 1 umol/L PF-04217903</text>
</svg></body></html>
